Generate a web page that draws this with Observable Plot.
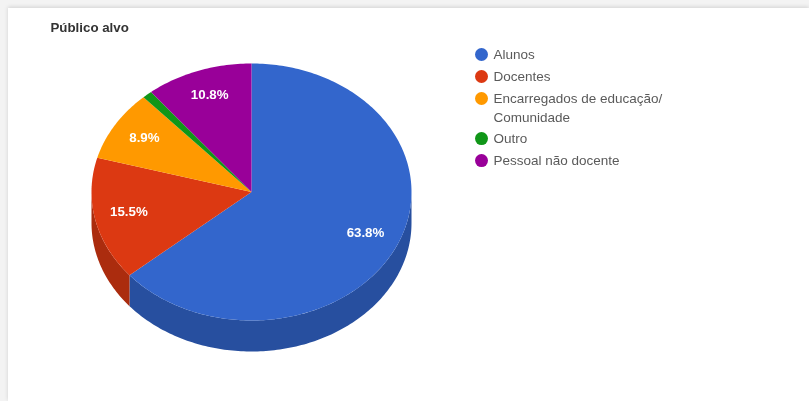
<!DOCTYPE html>
<html lang="pt">
<head>
<meta charset="utf-8">
<script src="https://cdn.jsdelivr.net/npm/d3@7"></script>
<script src="https://cdn.jsdelivr.net/npm/@observablehq/plot@0.6"></script>
<style>
  html, body { margin: 0; padding: 0; width: 809px; height: 401px; overflow: hidden; background: #f3f3f3; }
  #card { position: absolute; left: 8px; top: 8px; width: 801px; height: 393px; background: #fff; box-shadow: 0 -1px 4px rgba(0,0,0,.14); }
  #chart { position: absolute; left: 0; top: 0; filter: blur(0.6px); }
  svg { display: block; }
</style>
</head>
<body>
<div id="card"></div>
<div id="chart"></div>
<script>
const chartTitle = "Público alvo";
const categories = ["Alunos", "Docentes", "Encarregados de educação/\nComunidade", "Outro", "Pessoal não docente"];
const shares = [63.8, 15.5, 8.9, 1.0, 10.8];
const percentLabels = ["63.8%", "15.5%", "8.9%", "", "10.8%"];
const colors = ["#3366cc", "#dc3912", "#ff9900", "#109618", "#990099"];
const sideColors = ["#274f9f", "#ab2c0e", "#c67700", "#0c7512", "#770077"];

// Pie geometry, in the plot's own units
const cx = 251, cy = 191.5, rx = 160, ry = 128.5, depth = 31, labelAt = 0.785;
const rad = Math.PI / 180;
const px = (a, k = 1) => cx + rx * k * Math.sin(a);
const py = (a, k = 1) => cy - ry * k * Math.cos(a);

const arcs = d3.pie().sort(null).value(d => d)(shares);

function arcAngles(a0, a1) {
  const n = Math.max(2, Math.ceil((a1 - a0) / rad));
  return d3.range(n + 1).map(i => a0 + (a1 - a0) * i / n);
}

const tops = arcs.flatMap((s, i) => {
  const path = [{x: cx, y: cy}, ...arcAngles(s.startAngle, s.endAngle).map(a => ({x: px(a), y: py(a)}))];
  return path.map(p => ({...p, category: categories[i]}));
});

const sides = arcs.flatMap((s, i) => {
  const a0 = Math.max(s.startAngle, Math.PI / 2), a1 = Math.min(s.endAngle, 3 * Math.PI / 2);
  if (a1 <= a0) return [];
  const as = arcAngles(a0, a1);
  const path = [...as.map(a => ({x: px(a), y: py(a)})), ...as.slice().reverse().map(a => ({x: px(a), y: py(a) + depth}))];
  return path.map(p => ({...p, category: categories[i], shade: sideColors[i]}));
});

const labels = arcs.map((s, i) => {
  const mid = (s.startAngle + s.endAngle) / 2;
  return {x: px(mid, labelAt), y: py(mid, labelAt) - 2, text: percentLabels[i]};
}).filter(d => d.text);

// Legend rows: each text line takes one row step
const legendX = 481, legendTextX = 493, legendTop = 54, legendStep = 22;
let row = 0;
const legendRows = categories.map(c => {
  const r = {category: c, y: legendTop + row * legendStep};
  row += c.split("\n").length === 1 ? 1 : 1.82;
  return r;
});

const font = "Liberation Sans, Arial, sans-serif";

const plot = Plot.plot({
  width: 809, height: 401,
  marginTop: 0, marginRight: 0, marginBottom: 0, marginLeft: 0,
  style: {background: "transparent", fontFamily: font},
  x: {domain: [0, 809], range: [0, 809], axis: null},
  y: {domain: [0, 401], range: [0, 401], axis: null},
  color: {domain: categories, range: colors},
  marks: [
    Plot.line(sides, {x: "x", y: "y", z: "category", fill: {value: "shade", scale: null}, stroke: null, curve: "linear-closed"}),
    Plot.line(tops, {x: "x", y: "y", z: "category", fill: "category", stroke: null, curve: "linear-closed"}),
    Plot.text(labels, {x: "x", y: "y", text: "text", fill: "white", fontSize: 13.3, fontWeight: 700, textAnchor: "middle", lineAnchor: "middle"}),
    Plot.text([chartTitle], {x: () => 50, y: () => 27.5, text: d => d, fill: "#333", fontSize: 13.3, fontWeight: 700, textAnchor: "start", lineAnchor: "middle"}),
    Plot.dot(legendRows, {x: () => legendX, y: "y", r: 6.5, fill: "category", stroke: null}),
    Plot.text(legendRows, {x: () => legendTextX, y: d => d.y - 9.5, text: "category", fill: "#5a5a5a", fontSize: 13.5, textAnchor: "start", lineAnchor: "top", lineHeight: 1.42})
  ]
});
document.getElementById("chart").append(plot);
</script>
</body>
</html>
